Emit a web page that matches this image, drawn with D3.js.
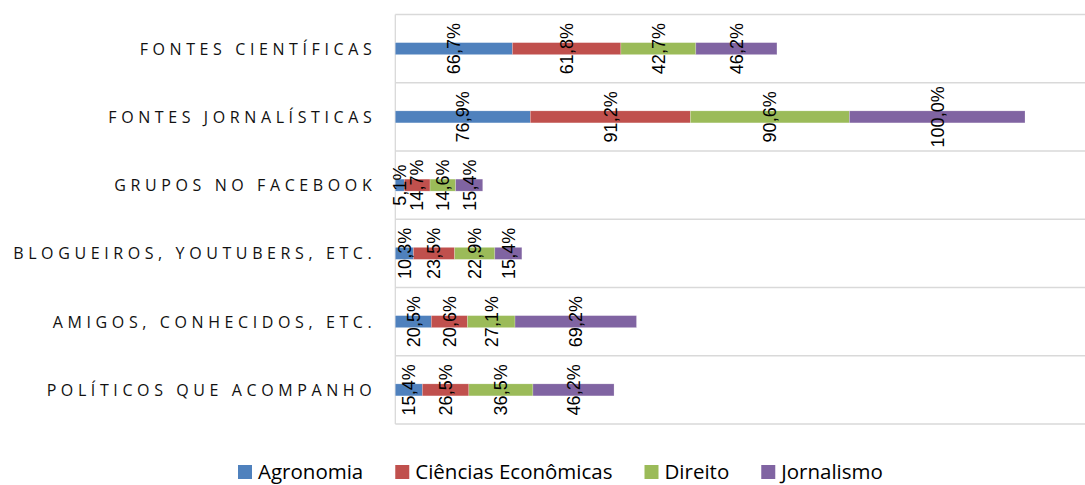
<!DOCTYPE html>
<html>
<head>
<meta charset="utf-8">
<script src="https://cdn.jsdelivr.net/npm/d3@7/dist/d3.min.js"></script>
<style>
  html, body { margin: 0; padding: 0; background: #fff; }
  svg { display: block; }
</style>
</head>
<body>
<svg id="chart" width="1085" height="485"></svg>
<script>
// Categories (top to bottom) and the share of each course, in percent
const categories = [
  "FONTES CIENTÍFICAS",
  "FONTES JORNALÍSTICAS",
  "GRUPOS NO FACEBOOK",
  "BLOGUEIROS, YOUTUBERS, ETC.",
  "AMIGOS, CONHECIDOS, ETC.",
  "POLÍTICOS QUE ACOMPANHO"
];
const seriesNames = ["Agronomia", "Ciências Econômicas", "Direito", "Jornalismo"];
const agronomia  = [66.7, 76.9, 5.1, 10.3, 20.5, 15.4];
const economicas = [61.8, 91.2, 14.7, 23.5, 20.6, 26.5];
const direito    = [42.7, 90.6, 14.6, 22.9, 27.1, 36.5];
const jornalismo = [46.2, 100.0, 15.4, 15.4, 69.2, 46.2];
const seriesColors = ["#4F81BD", "#C0504D", "#9BBB59", "#8064A2"];

const rows = categories.map((c, i) => ({
  category: c,
  "Agronomia": agronomia[i],
  "Ciências Econômicas": economicas[i],
  "Direito": direito[i],
  "Jornalismo": jornalismo[i]
}));

const svg = d3.select("#chart");
const plot = { left: 395.3, top: 14.5, bottom: 424, right: 1085 };

const x = d3.scaleLinear().domain([0, 400]).range([plot.left, plot.left + 702.2]);
const y = d3.scaleBand().domain(categories).range([plot.top, plot.bottom]).paddingInner(0).paddingOuter(0);
const color = d3.scaleOrdinal().domain(seriesNames).range(seriesColors);
const barH = 12;

// horizontal separators between categories
const edges = categories.map(c => y(c)).concat([plot.bottom]);
svg.append("g").selectAll("line").data(edges).join("line")
  .attr("x1", plot.left).attr("x2", plot.right)
  .attr("y1", d => d).attr("y2", d => d)
  .attr("stroke", "#d9d9d9").attr("stroke-width", 1.3);

// vertical category axis line
svg.append("line")
  .attr("x1", plot.left).attr("x2", plot.left)
  .attr("y1", plot.top).attr("y2", plot.bottom)
  .attr("stroke", "#d9d9d9").attr("stroke-width", 1.3);

// category labels
const yAxis = d3.axisLeft(y).tickSize(0).tickPadding(0);
const gAxis = svg.append("g").attr("transform", `translate(${plot.left - 19},0)`).call(yAxis);
gAxis.select(".domain").remove();
gAxis.selectAll("text")
  .attr("font-family", "'Open Sans', 'Noto Sans', sans-serif")
  .attr("font-size", 16)
  .attr("letter-spacing", "4.6px")
  .attr("fill", "#111")
  .attr("dy", "0.38em");

// stacked bars
const stacked = d3.stack().keys(seriesNames)(rows);
const layers = svg.append("g").selectAll("g").data(stacked).join("g")
  .attr("fill", d => color(d.key));

layers.selectAll("rect").data(d => d).join("rect")
  .attr("x", d => x(d[0]))
  .attr("width", d => x(d[1]) - x(d[0]))
  .attr("y", d => y(d.data.category) + y.bandwidth() / 2 - barH / 2)
  .attr("height", barH)
  .attr("stroke", "rgba(255,255,255,0.35)")
  .attr("stroke-width", 0.6);

// value labels, rotated, centred on each segment
const fmt = v => d3.format(".1f")(v).replace(".", ",") + "%";
const labels = svg.append("g");
stacked.forEach(layer => {
  layer.forEach(d => {
    const cx = (x(d[0]) + x(d[1])) / 2;
    const cy = y(d.data.category) + y.bandwidth() / 2;
    labels.append("text")
      .attr("transform", `translate(${cx},${cy}) rotate(-90)`)
      .attr("text-anchor", "middle")
      .attr("dy", "0.35em")
      .attr("font-family", "'Liberation Sans', Arial, sans-serif")
      .attr("font-size", 18)
      .attr("fill", "#000")
      .text(fmt(d[1] - d[0]));
  });
});

// legend
const legend = svg.append("g").attr("transform", "translate(238,472)");
let lx = 0;
seriesNames.forEach((name, i) => {
  const g = legend.append("g").attr("transform", `translate(${lx},0)`);
  g.append("rect").attr("x", 0).attr("y", -7).attr("width", 14).attr("height", 14)
    .attr("fill", seriesColors[i]);
  const t = g.append("text").attr("x", 20).attr("y", 7)
    .attr("font-family", "'Open Sans', 'Noto Sans', sans-serif")
    .attr("font-size", 20.5)
    .attr("fill", "#000")
    .text(name);
  lx += 20 + t.node().getComputedTextLength() + 32;
});
</script>
</body>
</html>
